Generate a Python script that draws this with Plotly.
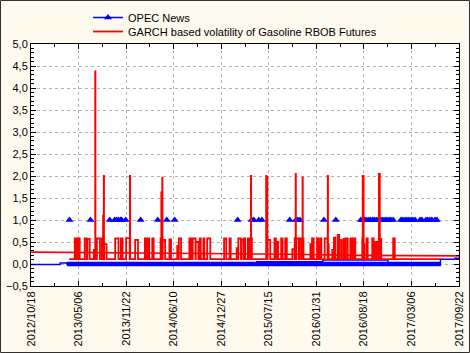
import plotly.graph_objects as go

# ---------------- data ----------------
# Days on which OPEC News = 1
news_dates = ["2013-03-29", "2013-06-25", "2013-09-14", "2013-10-05", "2013-10-13", "2013-10-21",
              "2013-10-30", "2013-11-03", "2013-11-20", "2014-01-22", "2014-04-04", "2014-05-12",
              "2014-06-14", "2015-03-06", "2015-05-04", "2015-05-13", "2015-06-03", "2015-06-16",
              "2015-10-11", "2015-11-06", "2015-11-14", "2015-11-23", "2016-03-03", "2016-04-22",
              "2016-08-05", "2016-08-13", "2016-08-22", "2016-08-30", "2016-09-08", "2016-09-16",
              "2016-09-25", "2016-10-03", "2016-10-12", "2016-10-20", "2016-10-29", "2016-11-06",
              "2016-11-15", "2016-11-23", "2016-12-02", "2016-12-10", "2016-12-19",
              "2017-01-21", "2017-01-29", "2017-02-07", "2017-02-15", "2017-02-23", "2017-03-04",
              "2017-03-12", "2017-03-21", "2017-04-11", "2017-04-19", "2017-05-06", "2017-05-14",
              "2017-05-23", "2017-05-31", "2017-06-13", "2017-06-21"]
news_value = 1.0

# OPEC News = 0 on all other days (dense markers form a band)
news_zero_dates = ["2013-03-18", "2017-07-08"]
news_zero_vals = [0.0, 0.0]

# thin OPEC News connecting line (step levels)
news_line_dates = ["2012-10-18", "2013-02-18", "2013-03-18", "2015-05-26", "2016-02-27",
                   "2016-11-27", "2017-07-06", "2017-09-05", "2017-09-22"]
news_line_vals = [-0.01, 0.02, 0.0, 0.05, 0.09, 0.0, 0.11, 0.13, 0.13]

# GARCH based volatility of Gasoline RBOB Futures
garch_base = 0.11
garch_base_start = "2013-03-28"
garch_base_end = "2017-07-07"
garch_start = ["2013-04-20", "2013-04-28", "2013-05-04", "2013-06-01", "2013-06-12", "2013-07-09",
               "2013-07-15", "2013-07-16", "2013-07-22", "2013-08-12", "2013-08-17", "2013-08-20",
               "2013-08-22", "2013-10-07", "2013-10-31", "2013-11-22", "2013-12-08", "2013-12-30",
               "2014-02-09", "2014-02-22", "2014-03-12", "2014-04-16", "2014-04-19", "2014-04-23",
               "2014-04-25", "2014-05-23", "2014-06-25", "2014-07-02", "2014-08-15", "2014-08-29",
               "2014-09-11", "2014-09-28", "2014-10-13", "2014-10-29", "2015-01-08", "2015-01-31",
               "2015-03-02", "2015-03-09", "2015-03-21", "2015-03-31", "2015-04-18", "2015-05-01",
               "2015-05-02", "2015-07-04", "2015-07-08", "2015-07-10", "2015-08-08", "2015-08-18",
               "2015-09-05", "2015-09-22", "2015-10-22", "2015-11-01", "2015-11-05", "2015-11-07",
               "2015-11-20", "2015-12-02", "2015-12-04", "2015-12-05", "2016-01-06", "2016-01-13",
               "2016-02-03", "2016-02-09", "2016-02-16", "2016-03-06", "2016-03-19", "2016-03-20",
               "2016-04-07", "2016-04-14", "2016-04-30", "2016-05-09", "2016-05-25", "2016-06-03",
               "2016-06-22", "2016-06-30", "2016-07-06", "2016-08-11", "2016-08-13", "2016-08-17",
               "2016-08-29", "2016-09-22", "2016-09-29", "2016-10-06", "2016-10-14", "2016-10-20",
               "2016-10-25", "2016-12-19"]
garch_end = ["2013-04-27", "2013-05-03", "2013-05-11", "2013-06-09", "2013-06-22", "2013-07-14",
             "2013-07-16", "2013-07-18", "2013-08-04", "2013-08-16", "2013-08-18", "2013-08-21",
             "2013-09-01", "2013-10-21", "2013-11-07", "2013-12-07", "2013-12-09", "2014-01-11",
             "2014-02-16", "2014-02-27", "2014-03-18", "2014-04-18", "2014-04-20", "2014-04-24",
             "2014-05-05", "2014-05-30", "2014-07-01", "2014-07-11", "2014-08-22", "2014-09-10",
             "2014-09-22", "2014-10-02", "2014-10-17", "2014-11-11", "2015-01-17", "2015-02-05",
             "2015-03-08", "2015-03-20", "2015-03-30", "2015-04-07", "2015-04-24", "2015-05-02",
             "2015-05-05", "2015-07-05", "2015-07-09", "2015-07-21", "2015-08-14", "2015-08-23",
             "2015-09-11", "2015-09-29", "2015-10-31", "2015-11-04", "2015-11-06", "2015-11-17",
             "2015-11-28", "2015-12-03", "2015-12-05", "2015-12-08", "2016-01-12", "2016-01-20",
             "2016-02-08", "2016-02-15", "2016-02-21", "2016-03-18", "2016-03-20", "2016-03-23",
             "2016-04-13", "2016-04-20", "2016-05-06", "2016-05-17", "2016-06-01", "2016-06-11",
             "2016-06-29", "2016-07-05", "2016-07-13", "2016-08-12", "2016-08-17", "2016-08-20",
             "2016-09-03", "2016-09-28", "2016-10-05", "2016-10-13", "2016-10-19", "2016-10-24",
             "2016-10-30", "2016-12-26"]
garch_peak = [0.58, 0.55, 0.58, 0.58, 0.57, 0.32,
              4.38, 0.32, 0.58, 0.58, 1.10, 2.00,
              0.45, 0.58, 0.58, 0.59, 2.00, 0.55,
              0.58, 0.58, 0.58, 0.58, 1.63, 1.96,
              0.55, 0.56, 0.41, 0.58, 0.58, 0.58,
              0.50, 0.58, 0.58, 0.58, 0.58, 0.58,
              0.36, 0.58, 0.55, 0.58, 0.58, 2.00,
              0.58, 2.00, 1.98, 0.55, 0.58, 0.50,
              0.58, 0.58, 0.34, 0.58, 2.05, 0.58,
              0.58, 0.58, 1.97, 0.58, 0.45, 0.58,
              0.58, 0.42, 0.58, 0.58, 2.00, 0.45,
              0.32, 0.60, 0.66, 0.55, 0.57, 0.58,
              0.58, 0.30, 0.58, 0.58, 2.00, 0.45,
              0.58, 0.58, 0.44, 0.50, 0.30, 2.05,
              0.57, 0.58]
# long connecting level line of the GARCH series
garch_level_dates = ["2012-10-18", "2013-04-20", "2014-06-01", "2015-10-01", "2016-08-01", "2017-09-22"]
garch_level_vals = [0.27, 0.265, 0.245, 0.22, 0.195, 0.185]

x_tick0 = "2012-10-18"
x_end = "2017-09-22"
tick_days = 200

BLUE = "#0000FF"
RED = "#FF0000"
FONT = "Liberation Sans, Arial, sans-serif"

# ---------------- traces ----------------
fig = go.Figure()

# OPEC News markers (value 1), unconnected
nx, ny = [], []
for d in news_dates:
    nx += [d, None]
    ny += [news_value, None]
fig.add_trace(go.Scatter(x=nx, y=ny, mode="lines+markers", name="OPEC News",
                         legend="legend", legendgroup="news", connectgaps=False,
                         line=dict(color=BLUE, width=1.5),
                         marker=dict(symbol="triangle-up", size=7, color=BLUE)))
fig.add_trace(go.Scatter(x=news_line_dates, y=news_line_vals, mode="lines", showlegend=False,
                         legendgroup="news", line=dict(color=BLUE, width=1.5, shape="hv")))
fig.add_trace(go.Scatter(x=news_zero_dates, y=news_zero_vals, mode="lines", showlegend=False,
                         legendgroup="news", line=dict(color=BLUE, width=4.5)))

# GARCH volatility
gx, gy = [garch_base_start], [garch_base]
for s, e, v in zip(garch_start, garch_end, garch_peak):
    gx += [s, e]
    gy += [v, garch_base]
gx.append(garch_base_end)
gy.append(garch_base)
fig.add_trace(go.Scatter(x=gx, y=gy, mode="lines", name="GARCH based volatility of Gasoline RBOB Futures",
                         legend="legend2", legendgroup="garch", line=dict(color=RED, width=1.8, shape="hv")))
fig.add_trace(go.Scatter(x=garch_level_dates, y=garch_level_vals, mode="lines", showlegend=False,
                         legendgroup="garch", line=dict(color=RED, width=1.6)))

# ---------------- layout ----------------
ML, MR, MT, MB = 31, 11, 44, 67
W, H = 470, 353
pw, ph = W - ML - MR, H - MT - MB

axis_common = dict(showline=True, linecolor="black", linewidth=1, mirror="ticks",
                   ticks="inside", ticklen=5, tickcolor="black", automargin=False,
                   showgrid=True, gridcolor="#B4B4B4", griddash="dot", gridwidth=1,
                   zeroline=False, tickfont=dict(family=FONT, size=11, color="black"))

leg_common = dict(xanchor="left", yanchor="top", bgcolor="rgba(0,0,0,0)",
                  font=dict(family=FONT, size=11, color="black"), itemwidth=30,
                  x=(88 - ML) / pw)

fig.update_layout(
    width=W, height=H,
    margin=dict(l=ML, r=MR, t=MT, b=MB, pad=0, autoexpand=False),
    paper_bgcolor="#FFFAEE", plot_bgcolor="white",
    separators=",.",
    font=dict(family=FONT, size=11, color="black"),
    showlegend=True,
    legend=dict(y=1 + (MT - 3) / ph, **leg_common),
    legend2=dict(y=1 + (MT - 17) / ph, **leg_common),
    xaxis=dict(type="date", range=[x_tick0, x_end], tick0=x_tick0,
               dtick=tick_days * 86400000, tickformat="%Y/%m/%d", tickangle=-90,
               minor=dict(dtick=tick_days // 2 * 86400000, tick0=x_tick0, ticks="inside",
                          ticklen=3, tickcolor="black", showgrid=False),
               **axis_common),
    yaxis=dict(range=[-0.5, 5.0], tick0=0, dtick=0.5, tickformat=".1f",
               minor=dict(dtick=0.1, ticks="inside", ticklen=3, tickcolor="black", showgrid=False),
               **axis_common),
    shapes=[dict(type="rect", xref="paper", yref="paper",
                 x0=(0.5 - ML) / pw, x1=(W - 0.5 - ML) / pw,
                 y0=-(MB - 0.5) / ph, y1=1 + (MT - 0.5) / ph,
                 line=dict(color="#303030", width=1), layer="below")],
)

fig.write_html("out.html", config={"displayModeBar": False},
               post_script="document.body.style.margin='0px';document.body.style.overflow='hidden';")
